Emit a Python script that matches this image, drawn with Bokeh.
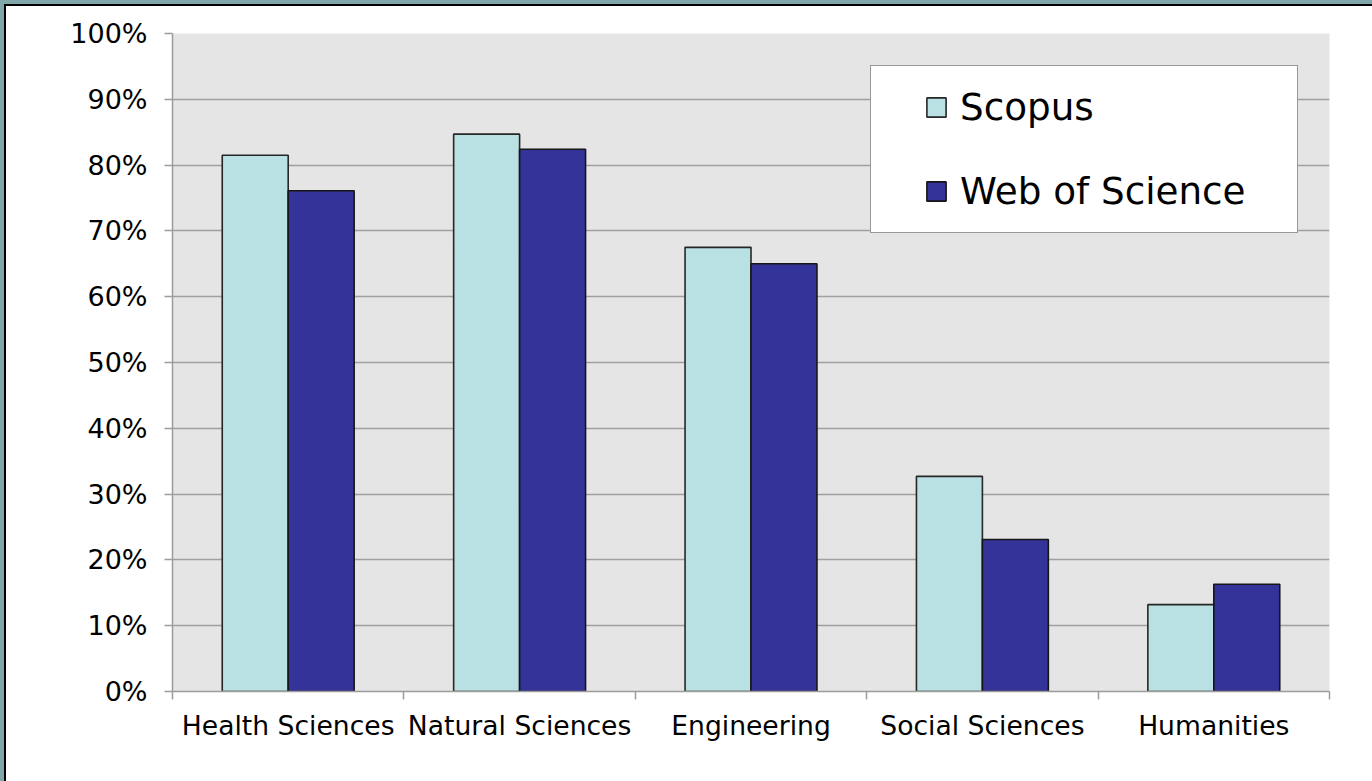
from bokeh.plotting import figure
from bokeh.models import (ColumnDataSource, FixedTicker, NumeralTickFormatter, Range1d,
                          Legend, LegendItem, GlobalInlineStyleSheet)
from bokeh.transform import dodge
from bokeh.embed import file_html
from bokeh.resources import INLINE

categories = ["Health Sciences", "Natural Sciences", "Engineering", "Social Sciences", "Humanities"]
scopus = [0.815, 0.847, 0.675, 0.327, 0.132]
wos = [0.761, 0.824, 0.650, 0.231, 0.163]
series_names = ["Scopus", "Web of Science"]
y_ticks = [0.0, 0.1, 0.2, 0.3, 0.4, 0.5, 0.6, 0.7, 0.8, 0.9, 1.0]

FONT = "DejaVu Sans"
idx = list(range(len(categories)))
src = ColumnDataSource(dict(x=idx, scopus=scopus, wos=wos))

p = figure(width=1368, height=777, output_backend="svg", toolbar_location=None,
           x_range=Range1d(-0.5, len(categories) - 0.5), y_range=Range1d(0, 1),
           min_border_left=166, min_border_top=27, min_border_right=45, min_border_bottom=92)
p.stylesheets = [GlobalInlineStyleSheet(css="html,body{margin:0;overflow:hidden;}"
                                            "body{padding:4px 0 0 4px;background:#7fa6a9;}")]
p.styles = {"border-top": "2px solid #000000", "border-left": "2px solid #000000",
            "background": "#ffffff"}

p.background_fill_color = "#e5e5e5"
p.border_fill_color = "#ffffff"
p.outline_line_color = None

bw = 0.285
r1 = p.vbar(x=dodge("x", -bw / 2, range=p.x_range), top="scopus", width=bw, source=src,
            fill_color="#b9e0e3", line_color="#262626", line_width=1.6)
r2 = p.vbar(x=dodge("x", bw / 2, range=p.x_range), top="wos", width=bw, source=src,
            fill_color="#333399", line_color="#161616", line_width=1.6)

# x axis: labels at centres, ticks at category boundaries
xa = p.xaxis[0]
xa.ticker = FixedTicker(ticks=idx, minor_ticks=[i - 0.5 for i in range(len(categories) + 1)])
xa.major_label_overrides = {i: c for i, c in enumerate(categories)}
xa.major_tick_line_color = None
xa.major_tick_out = 0
xa.major_tick_in = 0
xa.minor_tick_line_color = "#9c9c9c"
xa.minor_tick_line_width = 1.5
xa.minor_tick_out = 8
xa.minor_tick_in = 0
xa.axis_line_color = "#9c9c9c"
xa.axis_line_width = 1.5
xa.major_label_text_font = FONT
xa.major_label_text_font_size = "26.6px"
xa.major_label_text_color = "#000000"
xa.major_label_standoff = 10

ya = p.yaxis[0]
ya.ticker = FixedTicker(ticks=y_ticks)
ya.formatter = NumeralTickFormatter(format="0%")
ya.major_tick_line_color = "#9c9c9c"
ya.major_tick_line_width = 1.5
ya.major_tick_out = 8
ya.major_tick_in = 0
ya.minor_tick_line_color = None
ya.axis_line_color = "#9c9c9c"
ya.axis_line_width = 1.5
ya.major_label_text_font = FONT
ya.major_label_text_font_size = "27px"
ya.major_label_text_color = "#000000"
ya.major_label_standoff = 17

p.xgrid.grid_line_color = None
p.ygrid.grid_line_color = "#a0a0a0"
p.ygrid.grid_line_width = 1.5
p.ygrid.ticker = FixedTicker(ticks=y_ticks)

legend = Legend(items=[LegendItem(label=series_names[0], renderers=[r1]),
                       LegendItem(label=series_names[1], renderers=[r2])],
                location=(698, 458), orientation="vertical",
                title=" ", title_location="left", title_text_font_size="1px",
                title_standoff=33,
                label_text_font=FONT, label_text_font_size="37.3px", label_text_color="#000000",
                glyph_width=24, glyph_height=24, label_standoff=12,
                label_height=42, label_width=318, padding=19, spacing=40,
                border_line_color="#333333", border_line_width=1.5,
                background_fill_color="#ffffff", background_fill_alpha=1.0)
p.add_layout(legend, "center")

open("out.html", "w").write(file_html(p, INLINE))
